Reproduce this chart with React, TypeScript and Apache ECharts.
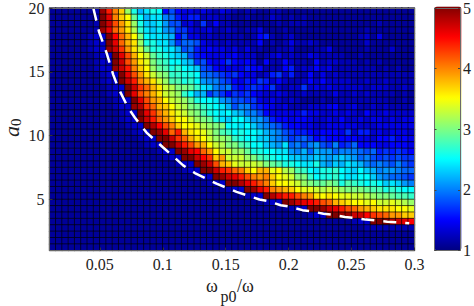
import React, { useEffect, useRef } from "react";
import * as echarts from "echarts";

const xTicks = [0.05, 0.1, 0.15, 0.2, 0.25, 0.3];
const yTicks = [5, 10, 15, 20];
const barTicks = [1, 2, 3, 4, 5];
const jetStops = ["#000080", "#0000ff", "#0080ff", "#00ffff", "#80ff80", "#ffff00", "#ff8000", "#ff0000", "#800000"];

// dashed threshold curve
const curveOmega = [0.0448, 0.0493, 0.0554, 0.0606, 0.0646, 0.0725, 0.0779, 0.0871, 0.1003, 0.1162, 0.1255, 0.1427, 0.1586, 0.1667, 0.1768, 0.184, 0.1937, 0.2011, 0.211, 0.2175, 0.2276, 0.235, 0.2448, 0.2519, 0.2614, 0.2686, 0.2784, 0.2852, 0.2958];
const curveA0 = [20, 18.16, 16.47, 14.78, 13.74, 12.18, 11.4, 10.24, 9.07, 7.67, 7.07, 6.24, 5.59, 5.33, 5.0, 4.86, 4.55, 4.43, 4.16, 4.08, 3.88, 3.8, 3.62, 3.55, 3.42, 3.36, 3.26, 3.22, 3.14];

// cell values x10, top row (a0 = 20) first, one row per 0.5 of a0, 58 columns
const rows = [
[11,11,11,11,11,11,11,12,49,44,40,37,31,26,22,24,26,25,15,18,15,14,14,13,14,13,12,14,13,12,11,12,12,11,11,12,12,11,11,11,11,11,11,11,11,11,11,11,11,11,11,11,11,11,11,11,11,11],
[11,11,11,11,11,11,11,12,50,46,40,37,35,29,25,22,24,24,20,19,16,14,16,16,12,13,13,12,12,11,11,12,11,11,11,13,12,11,12,11,12,11,11,11,11,11,11,11,11,11,11,11,11,11,11,11,11,11],
[11,11,11,11,11,11,11,12,50,47,42,39,36,31,26,23,23,24,21,18,18,13,14,12,17,12,15,12,12,11,11,11,11,11,11,11,12,11,12,12,12,11,11,11,11,11,11,11,11,11,11,11,12,11,11,11,11,11],
[11,11,11,11,11,11,11,12,49,46,41,39,36,32,27,24,23,24,21,20,17,17,14,13,13,14,12,12,13,12,11,12,12,14,11,11,11,12,11,11,11,11,11,11,11,11,11,11,11,11,12,11,11,11,11,11,11,11],
[11,11,11,11,11,11,12,13,13,50,45,41,38,35,30,25,24,24,23,22,15,18,14,14,12,13,12,12,12,12,12,11,12,15,16,12,11,12,13,11,11,11,11,11,11,11,11,11,11,12,13,11,14,11,11,11,11,11],
[11,11,11,11,11,11,12,13,13,50,46,41,38,36,31,26,26,24,24,21,17,19,19,18,14,13,13,12,13,12,12,12,12,15,11,12,11,12,14,12,12,13,12,11,11,11,11,11,11,11,13,11,11,11,11,11,11,11],
[11,11,11,11,11,11,12,13,13,49,47,43,39,36,33,29,26,26,24,24,22,18,19,16,14,15,14,14,13,14,12,14,12,12,11,11,12,12,13,11,11,11,12,12,14,11,11,11,11,11,12,11,11,11,13,11,11,11],
[11,11,11,11,11,11,11,12,13,13,50,46,42,38,35,33,29,27,26,24,23,22,18,16,15,14,14,14,14,15,13,13,13,11,12,13,14,12,13,12,12,14,13,12,12,12,12,11,11,12,11,11,11,11,11,11,11,11],
[11,11,11,11,11,11,11,12,13,13,50,47,42,39,36,34,30,28,27,25,25,23,22,17,18,15,14,15,17,15,14,15,14,11,15,12,12,15,13,12,12,11,15,12,13,13,12,12,12,11,12,11,12,11,11,11,11,11],
[11,11,11,11,11,11,11,12,13,13,49,47,44,40,37,35,31,29,28,26,27,25,24,23,18,17,15,14,14,14,14,16,15,15,12,12,12,15,16,12,13,13,15,13,14,12,12,12,12,12,12,12,11,12,11,12,11,11],
[11,11,11,11,11,11,11,11,12,13,13,50,46,42,39,36,33,31,30,27,27,26,26,25,19,19,18,17,16,17,15,14,14,12,13,16,17,13,16,12,12,15,12,14,12,13,12,12,12,12,12,12,12,12,12,12,12,12],
[11,11,11,11,11,11,11,11,12,13,13,50,47,44,40,38,36,33,31,28,28,26,27,25,21,20,20,18,17,15,14,16,15,17,16,13,15,13,12,12,13,15,13,15,13,13,13,13,12,12,13,12,12,13,12,12,12,12],
[11,11,11,11,11,11,11,11,11,12,13,13,50,47,43,41,38,36,33,32,30,30,29,27,24,23,20,19,20,16,15,16,17,16,15,17,13,12,13,13,17,13,14,13,14,13,13,13,13,13,12,13,13,13,12,12,13,12],
[11,11,11,11,11,11,11,11,11,12,13,13,50,46,42,40,38,36,33,32,31,27,25,22,22,17,19,17,15,17,16,17,15,14,13,13,14,13,12,12,13,12,12,12,12,14,12,12,13,12,13,12,12,12,12,11,12,11],
[11,11,11,11,11,11,11,11,11,11,12,13,13,50,46,42,39,38,35,33,32,31,29,26,25,25,24,21,20,18,18,17,17,14,13,14,13,12,13,12,11,11,11,12,11,12,12,12,12,12,12,12,12,12,11,11,12,11],
[11,11,11,11,11,11,11,11,11,11,12,13,13,49,48,43,41,38,37,35,33,32,30,29,27,26,25,24,22,18,20,20,17,16,15,14,13,14,12,12,12,13,13,13,14,15,12,13,14,12,12,13,12,13,12,12,12,12],
[11,11,11,11,11,11,11,11,11,11,11,12,13,13,50,46,43,40,38,36,34,33,31,30,28,26,25,24,25,23,22,20,20,18,15,14,14,14,14,14,16,14,14,13,13,14,13,14,13,12,15,13,13,14,13,13,13,13],
[11,11,11,11,11,11,11,11,11,11,11,12,13,13,50,47,44,41,39,37,35,35,33,31,30,29,26,24,23,25,25,23,21,21,19,16,15,15,14,15,15,14,13,13,14,13,15,13,13,14,13,14,14,13,14,13,14,14],
[11,11,11,11,11,11,11,11,11,11,11,11,12,13,13,50,48,45,42,40,37,35,35,34,32,31,30,30,25,25,24,25,23,21,20,19,18,16,15,15,14,14,13,13,14,14,14,14,14,13,13,13,14,14,14,14,14,14],
[11,11,11,11,11,11,11,11,11,11,11,11,11,12,13,13,50,49,46,41,44,38,36,35,34,32,30,28,27,25,26,25,25,24,22,21,20,18,17,16,16,15,14,15,15,15,14,17,13,16,16,13,14,13,14,14,14,13],
[11,11,11,11,11,11,11,11,11,11,11,11,11,11,12,13,13,50,50,47,43,41,38,36,35,33,31,31,30,27,26,25,25,23,23,21,20,19,17,18,19,17,15,16,15,15,15,15,15,14,14,13,15,15,16,14,15,14],
[11,11,11,11,11,11,11,11,11,11,11,11,11,11,11,12,13,13,50,50,47,44,42,39,38,35,33,32,30,30,28,27,25,25,23,22,21,24,19,20,18,20,21,18,17,20,16,17,19,15,15,15,14,14,15,15,15,14],
[11,11,11,11,11,11,11,11,11,11,11,11,11,11,11,11,11,12,13,13,50,49,46,45,41,39,35,33,33,31,31,29,26,26,25,25,24,24,21,20,22,19,22,21,21,19,20,20,20,19,18,19,16,17,16,17,16,15],
[11,11,11,11,11,11,11,11,11,11,11,11,11,11,11,11,11,11,12,13,13,50,50,47,45,43,37,39,33,33,33,31,30,28,27,26,25,25,23,23,22,22,23,22,21,22,23,22,21,19,20,18,17,18,17,18,17,17],
[11,11,11,11,11,11,11,11,11,11,11,11,11,11,11,11,11,11,11,11,12,13,13,50,49,47,42,38,37,34,33,33,33,32,30,29,28,26,26,25,24,24,26,22,21,23,22,24,23,22,20,19,20,19,18,20,18,17],
[11,11,11,11,11,11,11,11,11,11,11,11,11,11,11,11,11,11,11,11,11,12,13,13,50,50,47,44,43,41,40,37,35,38,38,34,35,32,31,28,27,25,24,26,26,27,25,24,23,25,23,22,20,21,21,20,19,19],
[11,11,11,11,11,11,11,11,11,11,11,11,11,11,11,11,11,11,11,11,11,11,11,12,13,13,50,49,47,46,44,42,40,39,40,37,35,34,33,30,30,27,25,26,26,27,25,24,24,25,25,23,21,20,19,19,18,17],
[11,11,11,11,11,11,11,11,11,11,11,11,11,11,11,11,11,11,11,11,11,11,11,11,11,12,13,13,50,50,48,46,44,42,40,37,35,35,34,33,31,30,29,29,30,29,26,28,27,26,25,26,25,23,24,23,21,20],
[11,11,11,11,11,11,11,11,11,11,11,11,11,11,11,11,11,11,11,11,11,11,11,11,11,11,11,11,12,13,13,50,49,46,44,40,39,38,37,35,34,34,33,32,33,32,31,30,30,30,29,28,28,26,27,26,25,25],
[11,11,11,11,11,11,11,11,11,11,11,11,11,11,11,11,11,11,11,11,11,11,11,11,11,11,11,11,11,11,11,12,13,13,50,48,46,44,44,42,40,39,36,35,36,35,34,34,33,33,32,31,30,30,29,28,28,27],
[11,11,11,11,11,11,11,11,11,11,11,11,11,11,11,11,11,11,11,11,11,11,11,11,11,11,11,11,11,11,11,11,11,11,12,13,13,50,49,47,46,45,44,42,41,38,37,36,35,35,34,35,33,33,34,33,32,31],
[11,11,11,11,11,11,11,11,11,11,11,11,11,11,11,11,11,11,11,11,11,11,11,11,11,11,11,11,11,11,11,11,11,11,11,11,11,11,12,13,13,50,50,49,47,46,44,42,41,39,38,37,36,36,36,35,35,34],
[11,11,11,11,11,11,11,11,11,11,11,11,11,11,11,11,11,11,11,11,11,11,11,11,11,11,11,11,11,11,11,11,11,11,11,11,11,11,11,11,11,12,13,13,50,50,49,49,47,47,45,43,42,41,39,39,37,37],
[11,11,11,11,11,11,11,11,11,11,11,11,11,11,11,11,11,11,11,11,11,11,11,11,11,11,11,11,11,11,11,11,11,11,11,11,11,11,11,11,11,11,11,11,11,11,11,11,12,13,13,50,50,50,48,47,46,45],
[11,11,11,11,11,11,11,11,11,11,11,11,11,11,11,11,11,11,11,11,11,11,11,11,11,11,11,11,11,11,11,11,11,11,11,11,11,11,11,11,11,11,11,11,11,11,11,11,11,11,12,12,12,12,12,12,12,12],
[11,11,11,11,11,11,11,11,11,11,11,11,11,11,11,11,11,11,11,11,11,11,11,11,11,11,11,11,11,11,11,11,11,11,11,11,11,11,11,11,11,11,11,11,11,11,11,11,11,11,11,11,11,11,11,11,11,11],
[11,11,11,11,11,11,11,11,11,11,11,11,11,11,11,11,11,11,11,11,11,11,11,11,11,11,11,11,11,11,11,11,11,11,11,11,11,11,11,11,11,11,11,11,11,11,11,11,11,11,11,11,11,11,11,11,11,11],
[11,11,11,11,11,11,11,11,11,11,11,11,11,11,11,11,11,11,11,11,11,11,11,11,11,11,11,11,11,11,11,11,11,11,11,11,11,11,11,11,11,11,11,11,11,11,11,11,11,11,11,11,11,11,11,11,11,11],
];

const SERIF = "'Liberation Serif', serif";
const FRAME = "#6a6a6a";
const TEXT = "#222222";

export default function App() {
  const ref = useRef<HTMLDivElement>(null);
  useEffect(() => {
    document.body.style.margin = "0";
    const chart = echarts.init(ref.current!, null, { renderer: "svg" });
    const cells: number[][] = [];
    rows.forEach((row, r) => row.forEach((v, c) => cells.push([c, rows.length - 1 - r, v / 10])));
    const xCats = rows[0].map((_, i) => String(i));
    const yCats = rows.map((_, i) => String(i));
    const curve = curveOmega.map((w, i) => [w, curveA0[i]]);
    const frame = { show: true, onZero: false, lineStyle: { color: FRAME, width: 1 } };
    const noTicks = { show: false };
    const label = { color: TEXT, fontFamily: SERIF, fontSize: 16 };
    chart.setOption({
      animation: false,
      backgroundColor: "#fff",
      grid: [
        { left: 49.5, top: 6.5, width: 365, height: 244 },
        { left: 434.5, top: 6.5, width: 27, height: 244 },
      ],
      xAxis: [
        { type: "category", gridIndex: 0, position: "top", data: xCats, z: 5, axisLine: frame, axisTick: noTicks, axisLabel: noTicks, splitLine: noTicks },
        {
          type: "value", gridIndex: 0, position: "bottom", min: 0.01, max: 0.3, z: 5, axisLine: frame, splitLine: noTicks,
          axisTick: { inside: true, length: 3, lineStyle: { color: "#333" }, customValues: xTicks },
          axisLabel: { ...label, margin: 6, customValues: xTicks },
        },
        { type: "value", gridIndex: 1, position: "bottom", min: 0, max: 1, z: 6, axisLine: frame, axisTick: noTicks, axisLabel: noTicks, splitLine: noTicks },
        { type: "value", gridIndex: 1, position: "top", min: 0, max: 1, z: 6, axisLine: frame, axisTick: noTicks, axisLabel: noTicks, splitLine: noTicks },
      ],
      yAxis: [
        { type: "category", gridIndex: 0, position: "right", data: yCats, z: 5, axisLine: frame, axisTick: noTicks, axisLabel: noTicks, splitLine: noTicks },
        {
          type: "value", gridIndex: 0, position: "left", min: 1, max: 20, z: 5, axisLine: frame, splitLine: noTicks,
          axisTick: { inside: true, length: 3, lineStyle: { color: "#333" }, customValues: yTicks },
          axisLabel: { ...label, margin: 5, customValues: yTicks },
        },
        {
          type: "value", gridIndex: 1, position: "left", min: 1, max: 5, z: 6, axisLine: frame, splitLine: noTicks, axisLabel: noTicks,
          axisTick: { inside: true, length: 2, lineStyle: { color: "#444" }, customValues: barTicks },
        },
        {
          type: "value", gridIndex: 1, position: "right", min: 1, max: 5, z: 6, axisLine: frame, splitLine: noTicks,
          axisTick: { inside: true, length: 2, lineStyle: { color: "#444" }, customValues: barTicks },
          axisLabel: { ...label, margin: 3, customValues: barTicks },
        },
      ],
      visualMap: {
        type: "continuous", seriesIndex: 0, dimension: 2, min: 1, max: 5, calculable: false, realtime: false,
        left: 434.5, top: 6.5, itemWidth: 27, itemHeight: 244, padding: 0, text: ["", ""], showLabel: false,
        textStyle: { fontSize: 0 }, inRange: { color: jetStops },
      },
      series: [
        {
          type: "heatmap", xAxisIndex: 0, yAxisIndex: 0, data: cells, silent: true, progressive: 0,
          itemStyle: { borderColor: "rgba(0,0,0,0.8)", borderWidth: 0.8 },
        },
        {
          type: "line", xAxisIndex: 1, yAxisIndex: 1, data: curve, silent: true, symbol: "none", z: 4,
          lineStyle: { color: "#fff", width: 2.5, type: [13, 9] },
        },
      ],
      graphic: [
        { type: "text", x: 206, y: 286, style: { text: "ω", font: `18px ${SERIF}`, fill: TEXT, textVerticalAlign: "middle" } },
        { type: "text", x: 220.5, y: 296, style: { text: "p0", font: `16px ${SERIF}`, fill: TEXT, textVerticalAlign: "middle" } },
        { type: "text", x: 237, y: 286, style: { text: "/ω", font: `18px ${SERIF}`, fill: TEXT, textVerticalAlign: "middle" } },
        { type: "text", x: 11, y: 137, rotation: Math.PI / 2, style: { text: "a", font: `italic 22px ${SERIF}`, fill: TEXT, textVerticalAlign: "middle" } },
        { type: "text", x: 16, y: 126, rotation: Math.PI / 2, style: { text: "0", font: `15px ${SERIF}`, fill: TEXT, textVerticalAlign: "middle" } },
      ],
    });
    return () => chart.dispose();
  }, []);
  return <div ref={ref} style={{ width: 474, height: 306 }} />;
}
